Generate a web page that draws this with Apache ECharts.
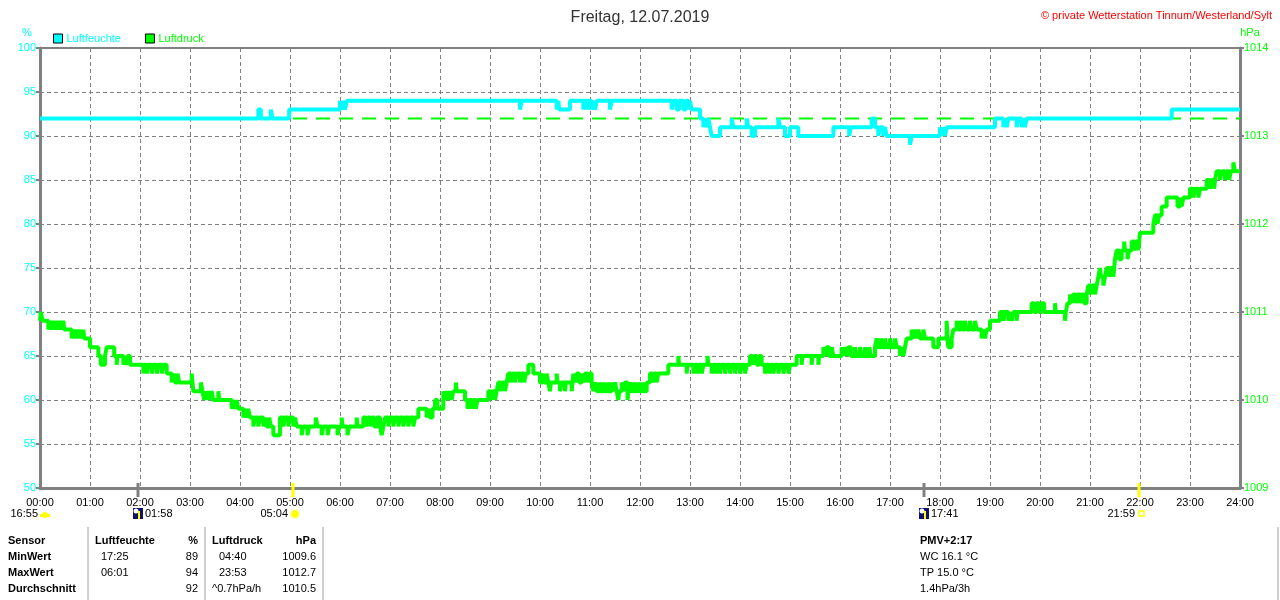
<!DOCTYPE html>
<html><head><meta charset="utf-8">
<script src="https://cdn.jsdelivr.net/npm/echarts@6/dist/echarts.min.js"></script>
<style>html,body{margin:0;padding:0;background:#fff}#c{width:1280px;height:600px}</style>
</head><body><div id="c"></div>
<script>
// ---------- data ----------
const titleText = 'Freitag, 12.07.2019';
const copyrightText = '© private Wetterstation Tinnum/Westerland/Sylt';
const humidityName = 'Luftfeuchte';
const pressureName = 'Luftdruck';
const humidityTicks = [50, 100, 5];      // min, max, step (%)
const pressureTicks = [1009, 1014, 1];   // min, max, step (hPa)
const hourTicks = [0, 1440, 60];         // minutes

// humidity [minute, %]
const humidity = [
 [0,92],[262,93],[265,92],[277,93],[279,92],[299,93],
 [360,94],[362,93],[364,94],[366,93],[368,94],
 [576,93],[578,94],[620,93],[622,94],[623,93],[636,94],
 [652,93],[654,94],[657,93],[659,94],[662,93],[664,94],[666,93],[668,94],[684,93],[686,94],
 [758,93],[760,94],[764,93],[767,94],[772,93],[775,94],[778,93],[780,94],[782,93],
 [792,92],[796,91],[798,92],[800,91],[802,92],[804,91],
 [806,90],[816,91],[830,92],[832,91],[848,92],[850,91],[854,90],[858,91],[886,92],[888,91],[894,90],[900,91],[910,90],
 [952,91],[971,90],[973,91],[998,92],[1002,91],[1006,90],[1008,91],[1012,90],[1014,91],[1016,90],
 [1044,89],[1046,90],[1080,91],[1082,90],[1084,91],[1086,90],[1088,91],
 [1146,92],[1156,91],[1158,92],[1160,91],[1162,92],[1172,91],[1174,92],[1178,91],[1180,92],[1182,91],[1184,92],
 [1358,93],[1440,93]
];

// pressure [minute, hPa]
const pressure = [
 [0,1010.9],[1,1011.0],[3,1010.9],
 [10,1010.8],[12,1010.9],[14,1010.8],[16,1010.9],[18,1010.8],[20,1010.9],[22,1010.8],[24,1010.9],[26,1010.8],[28,1010.9],[29,1010.8],
 [38,1010.7],[40,1010.8],[42,1010.7],[44,1010.8],[46,1010.7],[48,1010.8],[50,1010.7],[52,1010.8],[53,1010.7],
 [60,1010.6],[70,1010.5],[73,1010.4],[78,1010.5],[80,1010.6],[89,1010.5],[92,1010.4],[93,1010.5],[100,1010.4],[102,1010.5],[104,1010.4],[105,1010.5],
 [108,1010.4],[124,1010.3],[125,1010.4],[128,1010.3],[130,1010.4],[134,1010.3],[136,1010.4],[140,1010.3],[142,1010.4],[146,1010.3],[148,1010.4],[152,1010.3],
 [158,1010.2],[160,1010.3],[162,1010.2],[165,1010.3],[167,1010.2],
 [182,1010.3],[184,1010.1],[193,1010.2],[195,1010.1],[197,1010.0],[198,1010.1],[200,1010.0],[202,1010.1],[204,1010.0],[206,1010.1],[208,1010.0],[214,1010.1],[215,1010.0],
 [230,1009.9],[232,1010.0],[234,1009.9],[236,1010.0],[238,1009.9],
 [244,1009.8],[246,1009.9],[248,1009.8],[250,1009.9],[252,1009.8],
 [256,1009.7],[258,1009.8],[262,1009.7],[264,1009.8],[268,1009.7],[270,1009.8],[272,1009.7],[275,1009.8],[277,1009.7],
 [280,1009.6],[288,1009.8],[292,1009.7],[294,1009.8],[298,1009.7],[300,1009.8],[304,1009.7],[306,1009.8],
 [308,1009.7],[314,1009.6],[316,1009.7],[321,1009.6],[323,1009.7],[331,1009.8],[333,1009.7],[338,1009.6],[340,1009.7],[345,1009.6],[347,1009.7],[357,1009.6],[359,1009.7],[362,1009.8],[363,1009.7],[369,1009.6],[371,1009.7],[380,1009.8],[381,1009.7],
 [388,1009.8],[391,1009.7],[393,1009.8],[396,1009.7],[398,1009.8],[401,1009.7],[404,1009.8],[408,1009.7],[410,1009.6],[412,1009.7],[414,1009.8],[418,1009.7],[420,1009.8],[424,1009.7],[426,1009.8],[430,1009.7],[432,1009.8],[436,1009.7],[438,1009.8],[442,1009.7],[444,1009.8],[448,1009.7],[450,1009.8],
 [454,1009.9],[464,1009.8],[466,1009.9],[468,1009.8],[471,1009.9],[474,1010.0],[477,1009.9],
 [484,1010.1],[486,1010.0],[488,1010.1],[490,1010.0],[492,1010.1],[494,1010.0],[496,1010.1],[499,1010.2],[500,1010.1],
 [510,1010.0],[513,1009.9],[515,1010.0],[518,1009.9],[520,1010.0],[523,1009.9],[525,1010.0],
 [538,1010.1],[541,1010.0],[543,1010.1],[546,1010.0],[548,1010.1],
 [550,1010.2],[553,1010.1],[555,1010.2],[558,1010.1],[560,1010.2],
 [562,1010.3],[565,1010.2],[567,1010.3],[570,1010.2],[572,1010.3],[576,1010.2],[578,1010.3],[581,1010.2],[583,1010.3],
 [586,1010.4],[592,1010.3],[600,1010.2],[603,1010.3],[605,1010.2],[608,1010.3],[610,1010.2],[612,1010.1],[613,1010.2],
 [620,1010.3],[621,1010.2],[624,1010.1],[626,1010.2],[630,1010.1],[631,1010.2],[638,1010.1],[639,1010.2],[640,1010.3],[642,1010.2],[644,1010.3],[647,1010.2],[650,1010.3],[652,1010.2],[654,1010.3],[657,1010.2],[659,1010.3],
 [662,1010.2],[664,1010.1],[666,1010.2],[668,1010.1],[671,1010.2],[673,1010.1],[676,1010.2],[678,1010.1],[681,1010.2],[683,1010.1],[686,1010.2],[688,1010.1],[690,1010.2],[692,1010.1],[694,1010.0],[695,1010.1],
 [698,1010.2],[700,1010.1],[702,1010.2],[705,1010.0],[706,1010.1],[708,1010.2],[710,1010.1],[713,1010.2],[715,1010.1],[718,1010.2],[720,1010.1],[723,1010.2],[725,1010.1],[728,1010.2],
 [732,1010.3],[735,1010.2],[737,1010.3],[740,1010.2],[742,1010.3],
 [754,1010.4],[766,1010.5],[767,1010.4],[776,1010.3],[777,1010.4],
 [784,1010.3],[786,1010.4],[789,1010.3],[791,1010.4],[794,1010.3],[796,1010.4],[801,1010.5],[802,1010.4],
 [806,1010.3],[808,1010.4],[811,1010.3],[813,1010.4],[816,1010.3],[818,1010.4],[822,1010.3],[824,1010.4],[828,1010.3],[830,1010.4],[834,1010.3],[836,1010.4],[840,1010.3],[842,1010.4],[846,1010.3],[848,1010.4],
 [852,1010.5],[855,1010.4],[857,1010.5],[860,1010.4],[863,1010.5],[866,1010.4],
 [870,1010.3],[872,1010.4],[875,1010.3],[877,1010.4],[880,1010.3],[882,1010.4],[886,1010.3],[888,1010.4],[892,1010.3],[894,1010.4],[898,1010.3],[900,1010.4],
 [908,1010.5],[914,1010.4],[915,1010.5],[926,1010.4],[927,1010.5],[934,1010.4],[935,1010.5],
 [940,1010.6],[942,1010.5],[944,1010.6],[947,1010.5],[950,1010.6],[952,1010.5],
 [962,1010.6],[964,1010.5],[966,1010.6],[968,1010.5],[970,1010.6],[973,1010.5],[978,1010.6],[980,1010.5],[984,1010.6],[986,1010.5],[990,1010.6],[992,1010.5],[995,1010.6],[997,1010.5],
 [1002,1010.6],[1004,1010.7],[1006,1010.6],[1009,1010.7],[1011,1010.6],[1014,1010.7],[1016,1010.6],[1020,1010.7],[1022,1010.6],[1026,1010.7],[1028,1010.6],[1032,1010.5],[1034,1010.6],[1036,1010.5],[1038,1010.6],
 [1040,1010.7],[1046,1010.8],[1048,1010.7],[1050,1010.8],[1052,1010.7],[1054,1010.8],[1056,1010.7],[1060,1010.8],[1062,1010.7],
 [1072,1010.6],[1078,1010.7],[1088,1010.9],[1089,1010.7],[1090,1010.6],[1094,1010.7],
 [1096,1010.8],[1100,1010.9],[1102,1010.8],[1105,1010.9],[1107,1010.8],[1110,1010.9],[1112,1010.8],[1116,1010.9],[1118,1010.8],[1122,1010.9],[1124,1010.8],[1130,1010.7],[1132,1010.8],[1134,1010.7],[1136,1010.8],
 [1140,1010.9],[1152,1011.0],[1156,1010.9],[1158,1011.0],[1162,1010.9],[1164,1011.0],[1166,1010.9],[1168,1011.0],[1172,1010.9],[1173,1011.0],
 [1190,1011.1],[1193,1011.0],[1196,1011.1],[1199,1011.0],[1202,1011.1],[1205,1011.0],
 [1218,1011.1],[1219,1011.0],[1230,1010.9],[1231,1011.0],[1233,1011.1],
 [1236,1011.2],[1238,1011.1],[1240,1011.2],[1243,1011.1],[1245,1011.2],[1248,1011.1],[1250,1011.2],[1253,1011.1],
 [1256,1011.2],[1258,1011.3],[1261,1011.2],[1263,1011.3],[1266,1011.2],
 [1268,1011.3],[1270,1011.4],[1272,1011.5],[1273,1011.4],[1276,1011.3],[1278,1011.4],
 [1280,1011.5],[1283,1011.4],[1285,1011.5],[1288,1011.4],
 [1290,1011.6],[1292,1011.7],[1295,1011.6],[1298,1011.7],[1301,1011.8],[1302,1011.7],[1305,1011.6],[1307,1011.7],
 [1310,1011.8],[1313,1011.7],[1315,1011.8],[1318,1011.7],
 [1320,1011.9],[1336,1012.0],[1338,1012.1],[1341,1012.0],[1343,1012.1],
 [1346,1012.2],[1352,1012.3],[1365,1012.2],[1368,1012.3],[1370,1012.2],[1372,1012.3],
 [1380,1012.4],[1384,1012.3],[1386,1012.4],[1390,1012.3],[1392,1012.4],
 [1400,1012.5],[1404,1012.4],[1406,1012.5],[1409,1012.4],[1410,1012.5],
 [1412,1012.6],[1416,1012.5],[1418,1012.6],[1422,1012.5],[1424,1012.6],[1427,1012.5],[1429,1012.6],
 [1432,1012.7],[1434,1012.6],[1440,1012.6]
];

// astro events below the time axis
const astroLabels  = ['16:55', '01:58', '05:04', '17:41', '21:59'];
const astroMinutes = [0, 118, 304, 1061, 1319];
const astroKinds   = ['cloud', 'moonrise', 'sunrise', 'moonset', 'sunset'];

// statistics table
const tableHeader = ['Sensor', 'Luftfeuchte', '%', 'Luftdruck', 'hPa'];
const rowNames    = ['MinWert', 'MaxWert', 'Durchschnitt'];
const humTimes    = ['17:25', '06:01', ''];
const humValues   = ['89', '94', '92'];
const presTimes   = ['04:40', '23:53', '^0.7hPa/h'];
const presValues  = ['1009.6', '1012.7', '1010.5'];
const extraLines  = ['PMV+2:17', 'WC 16.1 °C', 'TP 15.0 °C', '1.4hPa/3h'];
const humidityAverage = 92;

// ---------- chart ----------
const CYAN = '#00ffff', GREEN = '#00ff00', GRAY = '#808080';
const FONT = '"Liberation Sans", Arial, sans-serif';
const pad2 = n => (n < 10 ? '0' : '') + n;

const chart = echarts.init(document.getElementById('c'));
const option = {
  animation: false,
  backgroundColor: '#fff',
  textStyle: { fontFamily: FONT },
  title: [
    { text: titleText, left: 'center', top: 5, textStyle: { fontFamily: FONT, fontSize: 16, fontWeight: 'normal', color: '#333' } },
    { text: copyrightText, right: 3, top: 5, textStyle: { fontFamily: FONT, fontSize: 11, fontWeight: 'normal', color: '#ff0000' } }
  ],
  legend: {
    left: 48, top: 28, icon: 'rect', itemWidth: 9, itemHeight: 9, itemGap: 24,
    itemStyle: { borderColor: '#000', borderWidth: 1 },
    textStyle: { fontFamily: FONT, fontSize: 11, padding: [1, 0, 0, -1] },
    data: [
      { name: humidityName, textStyle: { color: CYAN } },
      { name: pressureName, textStyle: { color: GREEN } }
    ]
  },
  grid: { left: 40, right: 40, top: 48, bottom: 112, show: true, borderColor: GRAY, borderWidth: 2, backgroundColor: 'transparent' },
  xAxis: {
    type: 'value', min: hourTicks[0], max: hourTicks[1], interval: hourTicks[2],
    axisLine: { lineStyle: { color: GRAY, width: 3 } },
    axisTick: { show: false },
    axisLabel: { color: '#000', fontSize: 11, fontFamily: FONT, margin: 9, formatter: v => pad2(v / 60) + ':00' },
    splitLine: { show: true, lineStyle: { color: GRAY, type: [4, 3], width: 1 } }
  },
  yAxis: [
    {
      type: 'value', min: humidityTicks[0], max: humidityTicks[1], interval: humidityTicks[2], position: 'left',
      axisLine: { show: true, lineStyle: { color: GRAY, width: 3 } },
      axisTick: { show: true, length: 4, lineStyle: { color: GRAY, width: 2 } },
      axisLabel: { color: CYAN, fontSize: 11, fontFamily: FONT, margin: 4, formatter: v => String(v) },
      splitLine: { show: true, lineStyle: { color: GRAY, type: [4, 3], width: 1 } }
    },
    {
      type: 'value', min: pressureTicks[0], max: pressureTicks[1], interval: pressureTicks[2], position: 'right',
      axisLine: { show: true, lineStyle: { color: GRAY, width: 3 } },
      axisTick: { show: true, length: 4, lineStyle: { color: GRAY, width: 2 } },
      axisLabel: { color: GREEN, fontSize: 11, fontFamily: FONT, margin: 4, formatter: v => String(v) },
      splitLine: { show: false }
    }
  ],
  series: [
    {
      name: 'avg', type: 'line', yAxisIndex: 0, z: 1, silent: true, showSymbol: false, symbol: 'none',
      data: [[hourTicks[0], humidityAverage], [hourTicks[1], humidityAverage]],
      lineStyle: { color: GREEN, width: 2, type: [14, 9] }
    },
    {
      name: pressureName, type: 'line', yAxisIndex: 1, z: 2, step: 'end', showSymbol: false, symbol: 'none',
      data: pressure, itemStyle: { color: GREEN }, lineStyle: { color: GREEN, width: 4 }
    },
    {
      name: humidityName, type: 'line', yAxisIndex: 0, z: 3, step: 'end', showSymbol: false, symbol: 'none',
      data: humidity, itemStyle: { color: CYAN }, lineStyle: { color: CYAN, width: 4 }
    }
  ]
};
chart.setOption(option);

// ---------- decorations below the axis ----------
const g = [];
const txt = (x, y, text, opt) => g.push({ type: 'text', x, y, silent: true,
  style: Object.assign({ text, fill: '#000', font: '11px ' + FONT, textVerticalAlign: 'middle', verticalAlign: 'middle' }, opt || {}) });

g.push({ type: 'text', x: 27, y: 33, style: { text: '%', fill: CYAN, font: '11px ' + FONT, align: 'center', verticalAlign: 'middle' } });
g.push({ type: 'text', x: 1250, y: 33, style: { text: 'hPa', fill: GREEN, font: '11px ' + FONT, align: 'center', verticalAlign: 'middle' } });

const axisY = chart.convertToPixel({ yAxisIndex: 0 }, humidityTicks[0]);
astroMinutes.forEach((m, i) => {
  const x = Math.round(chart.convertToPixel({ xAxisIndex: 0 }, m));
  const kind = astroKinds[i];
  const ly = axisY + 26;
  if (kind !== 'cloud') {
    const col = (kind === 'sunrise' || kind === 'sunset') ? '#ffff00' : GRAY;
    g.push({ type: 'line', silent: true, z: 50, shape: { x1: x, y1: axisY - 5, x2: x, y2: axisY + 9 }, style: { stroke: col, lineWidth: 3 } });
  }
  if (kind === 'cloud') {
    g.push({ type: 'circle', silent: true, shape: { cx: x + 5, cy: ly + 1, r: 3 }, style: { fill: '#ffff00' } });
    g.push({ type: 'rect', silent: true, shape: { x: x, y: ly, width: 10, height: 3 }, style: { fill: '#ffff00' } });
    txt(x - 2, ly, astroLabels[i], { align: 'right' });
  } else if (kind === 'moonrise' || kind === 'moonset') {
    g.push({ type: 'rect', silent: true, shape: { x: x - 5, y: ly - 6, width: 10, height: 11 }, style: { fill: '#101070' } });
    g.push({ type: 'circle', silent: true, shape: { cx: x - 2, cy: ly - 3, r: 2.5 }, style: { fill: '#ffffff' } });
    g.push({ type: 'line', silent: true, shape: { x1: x + 1, y1: ly - 3, x2: x + 1, y2: ly + 5 }, style: { stroke: '#ffff00', lineWidth: 2 } });
    txt(x + 7, ly, astroLabels[i], { align: 'left' });
  } else if (kind === 'sunrise') {
    g.push({ type: 'circle', silent: true, shape: { cx: x + 2, cy: ly, r: 5 }, style: { fill: '#ffffa0' } });
    g.push({ type: 'circle', silent: true, shape: { cx: x + 2, cy: ly, r: 3.5 }, style: { fill: '#ffff00' } });
    txt(x - 5, ly, astroLabels[i], { align: 'right' });
  } else {
    g.push({ type: 'rect', silent: true, shape: { x: x, y: ly - 3, width: 5, height: 5 }, style: { fill: 'none', stroke: '#ffff00', lineWidth: 1.5 } });
    txt(x - 4, ly, astroLabels[i], { align: 'right' });
  }
});

// table
const rowY = [541, 557, 573, 589];
const bold = { font: 'bold 11px ' + FONT };
txt(8, rowY[0], tableHeader[0], bold);
txt(95, rowY[0], tableHeader[1], bold);
txt(198, rowY[0], tableHeader[2], Object.assign({ align: 'right' }, bold));
txt(212, rowY[0], tableHeader[3], bold);
txt(316, rowY[0], tableHeader[4], Object.assign({ align: 'right' }, bold));
rowNames.forEach((r, i) => {
  const y = rowY[i + 1];
  txt(8, y, r, bold);
  txt(101, y, humTimes[i]);
  txt(198, y, humValues[i], { align: 'right' });
  txt(i === 2 ? 212 : 219, y, presTimes[i]);
  txt(316, y, presValues[i], { align: 'right' });
});
[88, 205, 323, 1278].forEach(x => g.push({ type: 'line', silent: true, shape: { x1: x, y1: 527, x2: x, y2: 600 }, style: { stroke: '#a0a0a0', lineWidth: 1 } }));
extraLines.forEach((t, i) => txt(920, rowY[i], t, i === 0 ? bold : {}));

chart.setOption({ graphic: { elements: g } });
</script>
</body></html>
